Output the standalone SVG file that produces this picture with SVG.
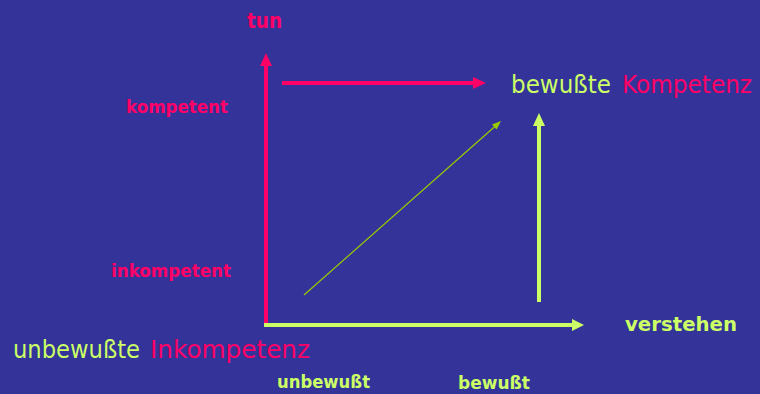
<svg xmlns="http://www.w3.org/2000/svg" width="760" height="394" viewBox="0 0 760 394">
<style>
.bg{fill:#333399}
.pk{fill:#FF0066}
.gr{fill:#CCFF66}
.lab{font-family:"DejaVu Sans","Open Sans",sans-serif;font-weight:bold}
.big{font-family:"DejaVu Sans","Open Sans",sans-serif;font-size:24px}
.ax-pk{stroke:#FF0066;stroke-width:4;fill:none}
.ax-gr{stroke:#CCFF66;stroke-width:4;fill:none}
.diag{stroke:#99CC00;stroke-width:1.2;fill:none}
</style>
<rect class="bg" x="0" y="0" width="760" height="394"/>
<g id="connectors">
<line class="ax-pk" x1="266" y1="324" x2="266" y2="64"/>
<polygon class="pk" points="266,53 260,66 272,66"/>
<line class="ax-pk" x1="282" y1="83" x2="475" y2="83"/>
<polygon class="pk" points="486,83 473,77 473,89"/>
<line class="ax-gr" x1="264" y1="325" x2="574" y2="325"/>
<polygon class="gr" points="584,325 572,319 572,331"/>
<line class="ax-gr" x1="539" y1="302" x2="539" y2="124"/>
<polygon class="gr" points="539,113 533,126 545,126"/>
<line class="diag" x1="304" y1="295" x2="496" y2="125.5"/>
<polygon fill="#99CC00" points="501,121 496.6,129.6 492,124.4"/>
</g>
<g id="node-tun"><text class="lab pk" x="247" y="28" font-size="21" textLength="35" lengthAdjust="spacingAndGlyphs">tun</text></g>
<g id="node-kompetent"><text class="lab pk" x="126" y="113" font-size="18" textLength="102" lengthAdjust="spacingAndGlyphs">kompetent</text></g>
<g id="node-inkompetent"><text class="lab pk" x="111" y="277" font-size="18" textLength="120" lengthAdjust="spacingAndGlyphs">inkompetent</text></g>
<g id="node-bewusste-kompetenz"><text class="big" x="511" y="93"><tspan class="gr" textLength="100" lengthAdjust="spacingAndGlyphs">bewußte</tspan><tspan class="pk" x="622" textLength="130" lengthAdjust="spacingAndGlyphs">Kompetenz</tspan></text></g>
<g id="node-unbewusste-inkompetenz"><text class="big" x="13" y="358"><tspan class="gr" textLength="127" lengthAdjust="spacingAndGlyphs">unbewußte</tspan><tspan class="pk" x="150" textLength="160" lengthAdjust="spacingAndGlyphs">Inkompetenz</tspan></text></g>
<g id="node-verstehen"><text class="lab gr" x="625" y="331" font-size="20" textLength="112" lengthAdjust="spacingAndGlyphs">verstehen</text></g>
<g id="node-unbewusst"><text class="lab gr" x="277" y="388" font-size="18" textLength="93" lengthAdjust="spacingAndGlyphs">unbewußt</text></g>
<g id="node-bewusst"><text class="lab gr" x="458" y="389" font-size="18" textLength="72" lengthAdjust="spacingAndGlyphs">bewußt</text></g>
</svg>
